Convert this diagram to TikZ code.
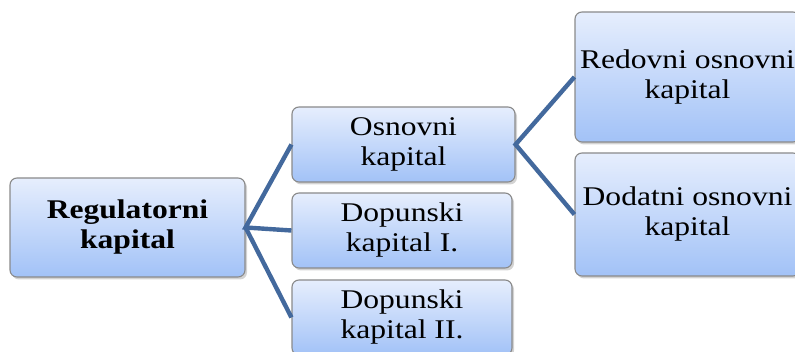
\documentclass[tikz,border=0pt]{standalone}
\usepackage{fontspec}
\setmainfont[FakeStretch=1.17]{Liberation Serif}
\usepackage{tikz}
\usetikzlibrary{positioning,shadows}

\definecolor{boxtop}{HTML}{E6EEFD}
\definecolor{boxbot}{HTML}{A2C2F7}
\definecolor{boxline}{HTML}{8A8A8A}
\definecolor{verbind}{HTML}{43699D}

\begin{document}
\begin{tikzpicture}[x=1pt,y=1pt,
		kasten/.style={draw=boxline, line width=1.1pt, rounded corners=7pt,
			top color=boxtop, bottom color=boxbot, align=center,
			font=\fontsize{27}{30}\selectfont, inner sep=2pt,
			drop shadow={opacity=0.35, shadow xshift=2pt, shadow yshift=-2.5pt}},
		linie/.style={draw=verbind, line width=4.4pt}]
		\useasboundingbox (0,0) rectangle (795,352);

		% Kaesten
		\node[kasten, minimum width=235pt, minimum height=99pt, font=\fontsize{27}{30}\selectfont\bfseries] (reg) at (127.5,124.5) {Regulatorni\\kapital};
		\node[kasten, minimum width=223pt, minimum height=75pt] (osn) at (403.5,207.5) {Osnovni\\kapital};
		\node[kasten, minimum width=220pt, minimum height=75pt] (dop1) at (402,121.5) {Dopunski\\kapital I.};
		\node[kasten, minimum width=220pt, minimum height=75pt] (dop2) at (402,34.5) {Dopunski\\kapital II.};
		\node[kasten, minimum width=225pt, minimum height=130pt] (red) at (687.5,275) {Redovni osnovni\\kapital};
		\node[kasten, minimum width=225pt, minimum height=123pt] (dod) at (687.5,137.5) {Dodatni osnovni\\kapital};

		% Linien
		\draw[linie] (osn.west) -- (reg.east) -- (dop1.west);
		\draw[linie] (reg.east) -- (dop2.west);
		\draw[linie] (red.west) -- (osn.east) -- (dod.west);
\end{tikzpicture}
\end{document}
